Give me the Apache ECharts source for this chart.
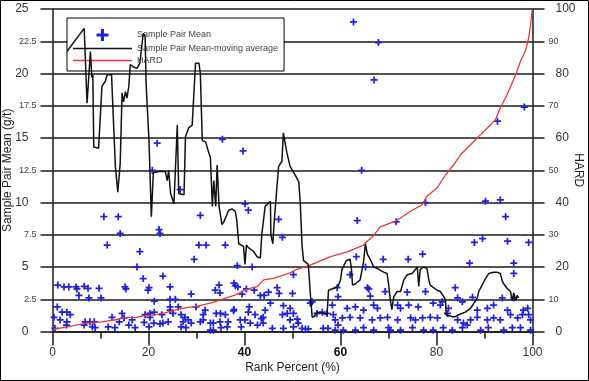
<!DOCTYPE html>
<html><head><meta charset="utf-8">
<script src="https://cdn.jsdelivr.net/npm/echarts@6/dist/echarts.min.js"></script>
<style>html,body{margin:0;padding:0;background:#fff}#c{width:589px;height:381px}</style>
</head><body><div id="c"></div>
<script>
const seriesNames = ['Sample Pair Mean', 'Sample Pair Mean-moving average', 'HARD'];
const axisNames = { x: 'Rank Percent (%)', left: 'Sample Pair Mean (g/t)', right: 'HARD' };
const boldXLabels = [40, 60];

// [rank percent, sample pair mean g/t]
const meanPoints = [
[62.7,24.0],[67.9,22.4],[67.0,19.5],[98.3,17.4],[92.7,16.3],[64.4,12.5],[77.7,10.0],[90.2,10.1],[93.3,10.2],[94.4,8.9],[63.5,8.6],[71.6,8.5],
[21.8,14.6],[35.4,14.9],[39.7,14.0],[20.8,12.5],[26.6,11.0],[40.1,9.9],[40.8,9.4],[10.7,8.9],[13.7,8.9],[30.8,9.0],[14.1,7.6],[22.2,7.9],[22.4,7.6],[11.4,6.7],[18.2,6.2],[30.5,6.7],[32.0,6.7],[36.0,6.7],[29.5,5.6],[38.5,5.1],[17.6,5.0],[18.9,4.1],[23.0,4.3],[47.1,8.7],[47.9,7.3],[50.2,4.4],[41.6,5.0],[87.9,6.9],[89.6,7.2],[94.8,7.0],[99.2,6.9],[77.1,6.0],[74.1,5.6],[68.9,5.6],[63.3,5.8],[86.9,5.3],[96.1,5.3],[96.1,4.5],[62.0,4.4],[65.2,5.0],
[1.1,3.6],[2.4,3.45],[3.4,3.45],[4.9,3.45],[5.1,3.3],[6.6,3.5],[7.4,3.35],[9.7,3.35],[15.1,3.45],[15.3,3.3],[19.9,3.2],[20.1,3.4],[24.5,3.45],[5.5,2.8],[7.6,2.6],[10.1,2.6],[21.2,2.35],[24.5,2.5],[25.6,2.5],[33.9,3.2],[34.7,3.6],[34.9,3.0],[37.8,3.75],[39.5,2.9],[28.9,2.9],[38.1,3.55],[38.6,3.45],[40.4,3.3],[42.0,3.2],[43.3,2.8],[44.1,2.8],[45.0,3.05],[47.2,2.95],[50.0,2.95],[46.8,3.4],[45.4,2.2],[48.1,2.0],[49.5,1.8],[50.2,1.4],[53.7,2.2],[54.1,2.3],[59.3,3.4],[65.6,3.4],[65.9,3.3],[69.3,3.1],[66.2,2.75],[73.9,3.05],[77.7,3.1],[83.9,3.4],[59.5,2.7],[84.4,2.6],[85.4,2.3],[87.5,2.65],[93.7,2.6],[96.1,2.6],[81.2,2.3],
[1.0,1.9],[2.0,1.5],[3.0,1.5],[0.3,1.1],[1.6,0.9],[3.0,0.75],[3.7,1.3],[0.5,0.25],[2.9,0.5],[6.8,0.75],[7.8,0.75],[8.7,0.75],[8.3,0.35],[8.9,0.3],[6.6,0.5],[11.6,0.35],[13.0,0.3],[12.4,1.1],[14.5,1.4],[14.9,1.05],[13.9,0.75],[16.6,0.9],[15.9,0.5],[17.2,0.3],[19.1,0.7],[20.1,0.35],[19.3,1.3],[20.3,1.4],
[20.3,1.1],[21.1,0.65],[22.4,0.6],[23.0,0.65],[24.1,0.75],[27.2,0.75],[28.3,0.9],[26.8,0.35],[27.8,0.3],[28.9,0.65],[30.8,0.75],[31.4,0.9],[32.9,0.65],[33.5,0.65],[32.9,0.1],[33.5,0.1],[34.9,0.75],[35.1,0.3],[36.4,0.35],[36.6,0.75],[39.1,0.9],[39.3,0.35],[24.5,1.9],[26.2,1.9],[29.9,1.9],[25.1,1.4],[26.8,1.3],[27.6,1.1],[31.8,1.65],[31.4,1.3],[34.1,1.4],[37.7,1.6],[41.0,1.9],[22.8,1.3],[21.2,1.5],[24.5,1.65],[35.0,1.4],[36.0,1.3],[37.8,1.7],
[40.8,1.5],[42.2,1.3],[44.3,1.65],[43.9,1.1],[43.5,1.0],[47.9,1.3],[48.9,1.4],[49.5,0.9],[51.0,0.95],[51.2,0.65],[40.1,0.9],[41.2,0.65],[42.7,0.5],[43.9,0.65],[45.8,0.25],[48.1,0.25],[50.2,0.35],[52.0,0.25],[52.7,0.2],[53.3,0.2],[55.1,1.4],[56.2,1.5],[57.2,1.4],[56.4,0.25],[57.4,0.25],[58.9,0.9],[59.5,0.5],
[58.3,2.05],[61.4,1.8],[63.1,1.9],[64.8,1.65],[66.9,2.05],[67.7,1.8],[71.9,2.05],[72.5,1.8],[74.2,2.05],[76.2,1.9],[79.3,2.2],[80.8,2.05],[82.5,1.8],[88.5,1.65],[90.6,1.8],[91.9,2.05],[94.8,1.65],[99.0,1.8],[58.5,1.3],[60.4,1.05],[62.0,1.1],[64.1,1.05],[66.6,0.9],[68.3,1.05],[69.8,1.1],[71.9,0.9],[74.6,1.05],[75.6,0.9],[77.1,1.05],[78.7,1.1],[80.2,1.05],[82.3,1.4],[84.4,0.9],[85.6,0.65],[87.1,0.9],[88.5,1.1],[90.6,0.9],[91.9,1.05],[93.3,0.9],[95.4,1.3],[96.9,1.05],[97.9,1.3],[98.1,1.65],[99.6,0.9],[99.2,1.3],
[58.9,0.1],[60.6,0.1],[63.1,0.1],[64.8,0.3],[66.9,0.1],[70.0,0.3],[70.4,0.1],[72.5,0.1],[75.0,0.3],[77.3,0.1],[79.3,0.1],[81.4,0.3],[83.3,0.1],[85.4,0.3],[86.4,0.5],[89.2,0.1],[90.8,0.3],[94.0,0.1],[95.8,0.3],[97.5,0.3],[99.6,0.1]
];

// [rank percent, moving average g/t]
const movingAverage = [
[3.0,21.7],[6.6,23.5],[6.9,23.4],[7.2,17.7],[7.9,21.7],[8.2,19.7],[8.4,19.9],[8.6,14.3],[8.9,14.2],[9.6,14.2],[10.0,14.3],[10.3,19.0],[11.0,19.4],[11.4,19.9],[12.3,19.9],[12.6,17.2],[13.1,12.8],[13.6,10.8],[14.1,13.0],[14.5,18.5],[14.8,17.8],[15.2,18.6],[15.5,18.1],[15.9,19.0],[16.2,20.7],[16.9,20.5],[17.6,20.4],[18.2,20.8],[18.9,23.1],[19.3,22.9],[19.5,19.2],[19.8,17.0],[20.1,14.8],[20.6,8.9],[21.0,12.3],[22.1,12.4],[23.5,12.4],[23.9,11.7],[24.2,12.5],[24.6,10.7],[25.3,9.9],[26.0,16.0],[26.3,10.7],[27.4,10.6],[27.7,15.1],[28.4,15.8],[29.1,16.0],[29.8,20.8],[30.5,20.8],[30.8,20.0],[31.2,14.8],[31.9,14.7],[32.6,13.8],[32.9,13.5],[33.3,9.7],[33.6,11.7],[34.0,9.7],[34.3,12.9],[34.7,9.7],[35.3,8.3],[35.7,8.5],[36.7,9.4],[37.4,9.5],[38.1,9.3],[38.4,8.6],[38.8,6.8],[39.8,6.6],[40.1,5.2],[40.4,6.7],[40.8,6.5],[41.9,6.2],[42.6,5.8],[43.3,5.7],[43.6,7.5],[44.3,9.7],[45.4,10.1],[45.5,7.5],[45.9,6.8],[46.2,8.6],[46.6,8.6],[47.1,12.8],[47.8,13.2],[48.1,15.4],[48.5,15.4],[48.8,13.9],[49.2,13.8],[49.5,12.8],[50.6,12.1],[51.3,11.6],[51.6,10.1],[52.0,6.6],[52.3,5.5],[53.3,5.2],[53.7,3.0],[54.1,1.1],[54.6,1.2],[55.1,1.5],[56.5,1.4],[57.2,1.3],[57.5,3.2],[58.6,3.35],[59.5,3.5],[60.0,4.0],[60.3,4.8],[61.2,5.5],[62.0,5.6],[62.3,4.8],[62.5,3.6],[63.1,3.7],[64.1,4.0],[64.8,5.4],[65.2,6.8],[65.6,6.0],[66.2,5.6],[66.9,5.0],[67.6,4.9],[69.0,4.6],[69.7,4.5],[70.0,3.7],[70.4,2.4],[70.7,1.7],[71.1,2.7],[71.8,3.1],[72.5,3.1],[73.2,4.0],[73.9,4.4],[74.9,4.5],[75.6,4.8],[76.0,5.0],[76.3,3.5],[76.6,4.8],[77.3,5.0],[78.0,4.9],[78.4,4.0],[78.7,3.6],[80.1,3.2],[80.8,3.1],[81.5,2.7],[81.9,2.4],[82.0,1.3],[82.2,1.3],[83.3,1.15],[83.9,1.15],[84.6,1.3],[86.0,1.5],[87.1,1.8],[87.8,2.2],[88.5,2.6],[88.8,3.1],[89.5,3.6],[90.2,4.1],[90.9,4.5],[91.9,4.6],[92.6,4.6],[93.3,4.5],[93.7,3.9],[94.0,3.7],[94.7,3.35],[95.4,3.1],[95.8,2.4],[96.1,3.0],[96.5,2.4],[96.8,2.8],[97.1,2.6]
];

// [rank percent, HARD]
const hardCurve = [
[0.25,0.7],[3.4,1.5],[6.8,2.5],[10.3,3.0],[13.8,3.8],[14.8,4.4],[17.3,4.3],[18.7,4.8],[20.8,5.1],[23.4,5.8],[26.9,7.2],[30.3,7.9],[33.8,9.2],[35.9,10.3],[38.0,11.3],[39.4,12.3],[40.8,13.2],[42.6,13.9],[44.0,16.0],[46.0,16.5],[49.5,18.2],[50.9,19.3],[53.7,20.6],[57.9,23.2],[61.4,24.7],[64.8,26.8],[65.5,27.9],[66.9,29.7],[68.3,32.5],[69.0,32.8],[71.7,34.4],[74.6,37.3],[77.0,39.3],[78.0,41.9],[80.1,44.5],[81.9,48.6],[83.6,51.7],[85.0,54.8],[87.1,57.9],[88.8,60.5],[90.6,63.1],[92.3,65.7],[93.3,69.3],[94.7,73.4],[96.5,79.6],[97.5,83.8],[98.5,86.9],[99.2,91.0],[99.6,95.1],[99.9,99.3],[100,100]
];

const plusPath = 'path://M3,0H5V3H8V5H5V8H3V5H0V3H3Z';
const lineIcon = 'path://M0,0H60V1.6H0Z';
const ink = '#1a1a1a';
const font = 'Liberation Sans, Arial, sans-serif';

const chart = echarts.init(document.getElementById('c'), null, {renderer: 'canvas'});
chart.setOption({
  animation: false,
  textStyle: { fontFamily: font },
  grid: { left: 52.5, right: 56.5, top: 9, bottom: 49.5, containLabel: false, outerBoundsMode: 'none' },
  legend: {
    orient: 'vertical', left: 67, top: 18, z: 3,
    backgroundColor: '#fff', borderColor: '#000', borderWidth: 1,
    padding: [11, 6, 6, 6], itemGap: 3, itemWidth: 59, itemHeight: 12,
    selectedMode: false,
    textStyle: { fontSize: 9, color: '#444', fontFamily: font },
    data: [
      { name: seriesNames[0], icon: plusPath },
      { name: seriesNames[1], icon: lineIcon },
      { name: seriesNames[2], icon: lineIcon }
    ]
  },
  xAxis: {
    type: 'value', min: 0, max: 100, interval: 20,
    name: axisNames.x, nameLocation: 'middle', nameGap: 30, nameMoveOverlap: false,
    nameTextStyle: { fontSize: 12, color: '#222' },
    axisLine: { show: true, onZero: false, lineStyle: { color: ink, width: 1.5 } },
    axisTick: { show: true, length: 14, lineStyle: { color: ink, width: 1.5 } },
    minorTick: { show: true, splitNumber: 2, length: 7, lineStyle: { color: ink, width: 1.5 } },
    splitLine: { show: false },
    axisLabel: {
      margin: 15, fontSize: 12, color: '#333',
      formatter: v => boldXLabels.includes(v) ? '{b|' + v + '}' : '{n|' + v + '}',
      rich: { b: { fontWeight: 'bold', fontSize: 12, color: '#111' }, n: { fontSize: 12, color: '#333' } }
    }
  },
  yAxis: [{
    type: 'value', min: 0, max: 25, interval: 2.5, position: 'left',
    name: axisNames.left, nameLocation: 'middle', nameGap: 39, nameMoveOverlap: false,
    nameTextStyle: { fontSize: 12, color: '#222' },
    axisLine: { show: true, lineStyle: { color: ink, width: 1.5 } },
    axisTick: { show: true, length: 12, lineStyle: { color: ink, width: 1.5 } },
    splitLine: { show: true, lineStyle: { color: ink, width: 1.5 } },
    axisLabel: {
      margin: 16,
      formatter: v => (v % 5 === 0) ? '{a|' + v + '}' : '{b|' + v + '}',
      rich: { a: { fontSize: 12, color: '#333', padding: [0, 8, 0, 0] }, b: { fontSize: 9, color: '#444' } }
    }
  }, {
    type: 'value', min: 0, max: 100, interval: 10, position: 'right',
    name: axisNames.right, nameLocation: 'middle', nameGap: 40, nameRotate: -90, nameMoveOverlap: false,
    nameTextStyle: { fontSize: 12, color: '#222' },
    axisLine: { show: true, lineStyle: { color: ink, width: 1.5 } },
    axisTick: { show: true, length: 12, lineStyle: { color: ink, width: 1.5 } },
    splitLine: { show: false },
    axisLabel: {
      margin: 16,
      formatter: v => (v % 20 === 0) ? '{a|' + v + '}' : '{b|' + v + '}',
      rich: { a: { fontSize: 12, color: '#333', padding: [0, 0, 0, 7] }, b: { fontSize: 9, color: '#444' } }
    }
  }],
  series: [{
    name: seriesNames[0], type: 'scatter', data: meanPoints,
    symbol: plusPath, symbolSize: 7, z: 2,
    itemStyle: { color: '#2020e0', opacity: 1 }, silent: true
  }, {
    name: seriesNames[1], type: 'line', data: movingAverage,
    symbol: 'none', showSymbol: false, z: 5, silent: true,
    lineStyle: { color: '#111', width: 1.5 }, itemStyle: { color: '#111' }
  }, {
    name: seriesNames[2], type: 'line', yAxisIndex: 1, data: hardCurve,
    symbol: 'none', showSymbol: false, z: 4, silent: true,
    lineStyle: { color: '#e8383a', width: 1.3 }, itemStyle: { color: '#e8383a' }
  }],
  graphic: [{
    type: 'rect', z: 100, silent: true,
    shape: { x: 0.5, y: 0.5, width: 588, height: 380 },
    style: { fill: 'none', stroke: '#000', lineWidth: 1 }
  }]
});
</script>
</body></html>
